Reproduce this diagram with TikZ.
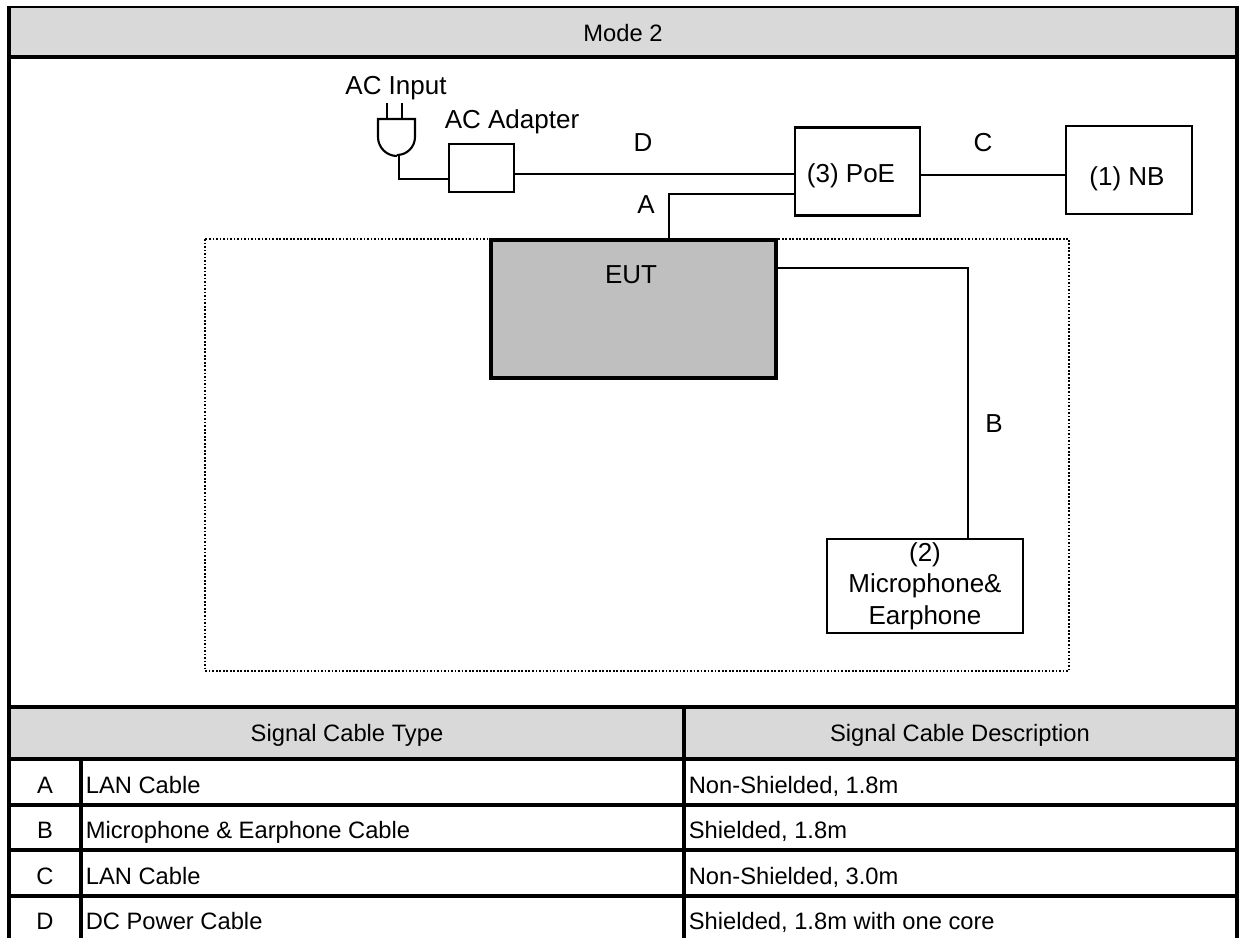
\documentclass[tikz,border=0pt]{standalone}
\usepackage{fontspec}
\setmainfont{Liberation Sans}
\definecolor{bandgrey}{HTML}{D9D9D9}
\definecolor{eutgrey}{HTML}{BFBFBF}
\tikzset{
  every picture/.style={line join=miter, line cap=butt},
  unitbox/.style={draw,line width=1.2pt,inner sep=0pt,align=center},
  gridline/.style={line width=1.8pt},
  cable/.style={line width=1.2pt},
  bigtext/.style={font=\fontsize{14.8pt}{17.9pt}\selectfont,inner sep=0pt},
  biglabel/.style={bigtext,anchor=base},
  headtext/.style={font=\fontsize{13.5pt}{16pt}\selectfont,inner sep=0pt,anchor=base},
  celltext/.style={font=\fontsize{13.5pt}{16pt}\selectfont,inner sep=0pt,anchor=base west},
}
\begin{document}
\begin{tikzpicture}[x=0.02cm,y=0.02cm]
\useasboundingbox(0,0)rectangle(1242,938);
\fill[white](0,0)rectangle(1242,938);
% grey bands
\fill[bandgrey](9,931)rectangle(1237,881);
\fill[bandgrey](9,231)rectangle(1237,179);
% table lines
\draw[line width=1.2pt](8,931)--(1238,931);
\draw[gridline](9,932)--(9,0)
(1237,932)--(1237,0)
(9,881)--(1237,881)
(9,231)--(1237,231)
(9,179)--(1237,179)
(9,133)--(1237,133)
(9,88)--(1237,88)
(9,42)--(1237,42)
(81,179)--(81,0)
(684,231)--(684,0);
% table text
\node[headtext](mode)at(623,896){Mode 2};
\node[headtext](typehead)at(347,197){Signal Cable Type};
\node[headtext](deschead)at(960,197){Signal Cable Description};
\node[headtext](rowa)at(45,145){A};
\node[headtext](rowb)at(45,100){B};
\node[headtext](rowc)at(45,54){C};
\node[headtext](rowd)at(45,9){D};
\node[celltext](typea)at(85.5,145){LAN Cable};
\node[celltext](typeb)at(85.5,100){Microphone \& Earphone Cable};
\node[celltext](typec)at(85.5,54){LAN Cable};
\node[celltext](typed)at(85.5,9){DC Power Cable};
\node[celltext](desca)at(688.5,145){Non-Shielded, 1.8m};
\node[celltext](descb)at(688.5,100){Shielded, 1.8m};
\node[celltext](descc)at(688.5,54){Non-Shielded, 3.0m};
\node[celltext](descd)at(688.5,9){Shielded, 1.8m with one core};
% dotted area
\draw[line width=1pt,densely dotted](205,699)rectangle(1069,267);
% units
\node[unitbox,minimum width=1.3cm,minimum height=0.96cm](adapter)at(481.5,770){};
\node[unitbox,minimum width=2.5cm,minimum height=1.76cm](poe)at(857.5,766.5){};
\node[unitbox,minimum width=2.52cm,minimum height=1.76cm](nb)at(1129,768){};
\node[draw,line width=1.8pt,fill=eutgrey,minimum width=5.7cm,minimum height=2.76cm,inner sep=0pt](eut)at(633.5,629){};
\node[unitbox,bigtext,minimum width=3.92cm,minimum height=1.88cm,text width=3.8cm](mic)at(925,352){(2)\\Microphone\&\\Earphone};
% cables
\coordinate(ajoint)at(669,744);
\coordinate(bjoint)at(968,670);
\coordinate(cjoint)at(990,763);
\coordinate(djoint)at(600,764);
\draw[cable](adapter.east|-djoint)--([xshift=0.04cm]poe.west|-djoint);
\draw[cable](poe.east|-cjoint)--(nb.west|-cjoint);
\draw[cable](eut.north-|ajoint)--(ajoint)--(ajoint-|poe.west);
\draw[cable](eut.east|-bjoint)--(bjoint)--(bjoint|-mic.north);
% plug
\coordinate(plugbase)at(397,782);
\draw[cable](plugbase)arc[start angle=270,end angle=180,radius=19]--++(0,18)--++(37,0)--++(0,-18)arc[start angle=0,end angle=-90,radius=18];
\draw[cable](387,819)--(387,835)(402,819)--(402,835);
\draw[cable](399,782)--(399,759)--(adapter.west|-399,759);
% labels
\node[biglabel](acinput)at(396,843){AC Input};
\node[biglabel](acadapter)at(512,809){AC Adapter};
\node[biglabel](labeld)at(643,786){D};
\node[biglabel](labelc)at(983,786){C};
\node[biglabel](labela)at(646,724){A};
\node[biglabel](labelb)at(994,505){B};
\node[biglabel](poetext)at(851,755){(3) PoE};
\node[biglabel](nbtext)at(1127,752){(1) NB};
\node[biglabel](euttext)at(631,654){EUT};
\end{tikzpicture}
\end{document}
